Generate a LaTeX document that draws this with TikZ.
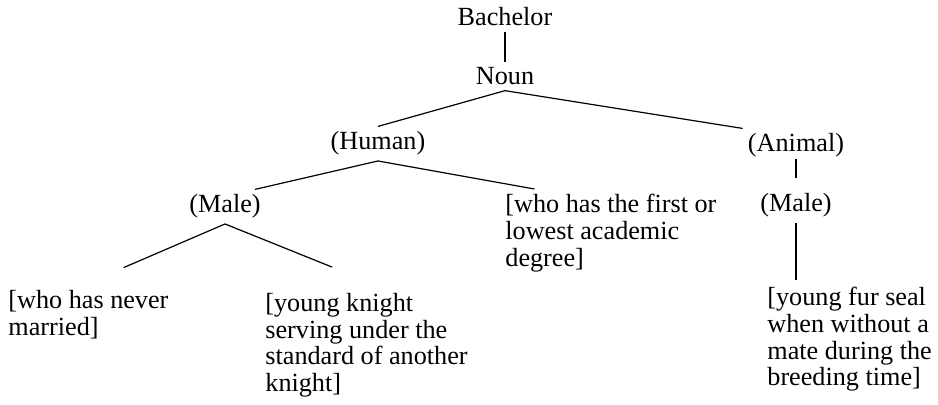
\documentclass[tikz,border=0pt]{standalone}
\usepackage{fontspec}
\setmainfont{Liberation Serif}

\begin{document}
\begin{tikzpicture}[x=0.5pt, y=-0.5pt]

\def\fsize{13.1pt}
\def\lskip{13.35pt}

\tikzset{
  word/.style={anchor=base, inner sep=2.5pt, font=\fontsize{\fsize}{\lskip}\selectfont},
  gloss/.style={anchor=north west, align=left, inner sep=2.5pt, font=\fontsize{\fsize}{\lskip}\selectfont},
  branch/.style={line width=0.6pt}
}

\useasboundingbox (0,0) rectangle (938,405);

% Begriffe
\node[word] (bachelor) at (505,26) {Bachelor};
\node[word] (noun) at (505,85) {Noun};
\node[word] (human) at (378,150) {(Human)};
\node[word] (animal) at (796,152) {(Animal)};
\node[word] (maleh) at (225,213) {(Male)};
\node[word] (malea) at (796,212) {(Male)};

% Bedeutungen
\node[gloss] (degree) at (500,189) {[who has the first or\\lowest academic\\degree]};
\node[gloss] (never) at (3,285) {[who has never\\married]};
\node[gloss] (knight) at (260,288) {[young knight\\serving under the\\standard of another\\knight]};
\node[gloss] (seal) at (762,282) {[young fur seal\\when without a\\mate during the\\breeding time]};

% Aeste
\draw[branch] (bachelor.south) -- (noun.north);
\draw[branch] (noun.south) -- (human.north);
\draw[branch] (noun.south) -- (animal.north west);
\draw[branch] (human.south) -- (maleh.30);
\draw[branch] (human.south) -- (degree.150);
\draw[branch, shorten >=22pt] (maleh.south) -- (never.100);
\draw[branch, shorten >=28pt] (maleh.south) -- (knight.73);
\draw[branch, shorten <=-2.2pt, shorten >=5.4pt] (animal.south) -- (malea.north);
\draw[branch, shorten >=1pt] (malea.south) -- (malea.south |- seal.north);

\end{tikzpicture}
\end{document}
